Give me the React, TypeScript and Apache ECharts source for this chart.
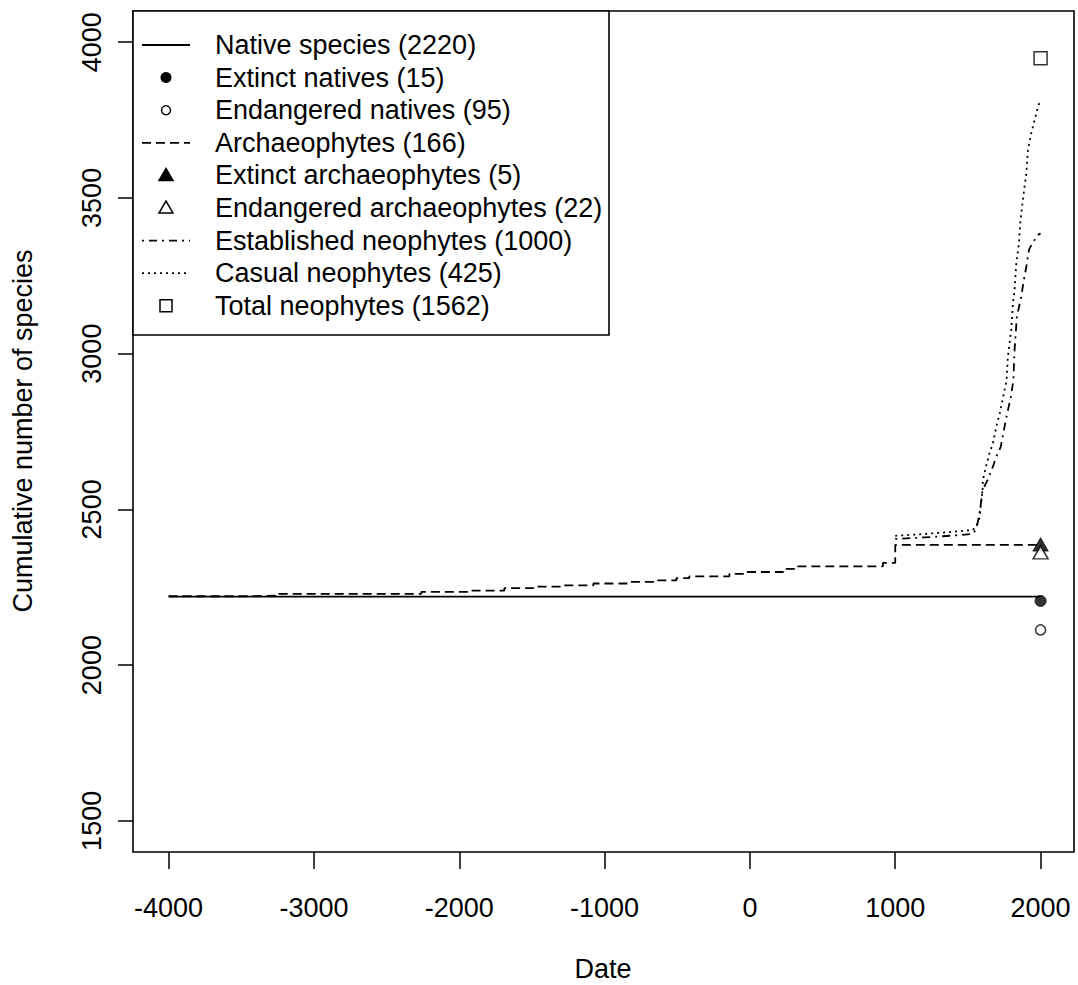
import React, { useEffect, useRef } from "react";
import * as echarts from "echarts";

const FONT = "'Liberation Sans', Arial, Helvetica, sans-serif";

const xTicks = [-4000, -3000, -2000, -1000, 0, 1000, 2000];
const yTicks = [1500, 2000, 2500, 3000, 3500, 4000];

const xAxisTitle = "Date";
const yAxisTitle = "Cumulative number of species";

// Cumulative curves: [date, cumulative number of species]
const nativeSpecies: [number, number][] = [
  [-4000, 2220],
  [2000, 2220],
];

const archaeophytes: [number, number][] = [
  [-4000, 2221], [-3441, 2223], [-3241, 2229], [-2261, 2235], [-1937, 2239],
  [-1690, 2247], [-1490, 2252], [-1290, 2256], [-1077, 2262], [-836, 2267],
  [-644, 2272], [-506, 2279], [-417, 2285], [-141, 2293], [-31, 2299],
  [230, 2309], [320, 2317], [915, 2328], [1000, 2386], [2000, 2386],
];

const establishedNeophytes: [number, number][] = [
  [1000, 2405], [1200, 2410], [1400, 2416], [1535, 2421], [1560, 2440],
  [1580, 2487], [1601, 2562], [1635, 2594], [1672, 2637], [1695, 2669],
  [1726, 2701], [1743, 2744], [1766, 2798], [1795, 2860], [1813, 2915],
  [1821, 3012], [1837, 3119], [1867, 3183], [1885, 3237], [1902, 3279],
  [1920, 3333], [1943, 3354], [1981, 3381], [2000, 3386],
];

const casualNeophytes: [number, number][] = [
  [1000, 2415], [1200, 2421], [1400, 2428], [1535, 2434], [1560, 2450],
  [1577, 2466], [1601, 2562], [1603, 2594], [1624, 2637], [1648, 2680],
  [1672, 2712], [1695, 2765], [1719, 2808], [1743, 2862], [1766, 2915],
  [1775, 2990], [1798, 3076], [1810, 3162], [1821, 3204], [1833, 3290],
  [1851, 3354], [1860, 3419], [1878, 3494], [1902, 3579], [1913, 3654],
  [1936, 3708], [1959, 3750], [1986, 3799], [2000, 3810],
];

const extinctNatives: [number, number][] = [[2000, 2206]];
const endangeredNatives: [number, number][] = [[2000, 2113]];
const extinctArchaeophytes: [number, number][] = [[2000, 2387]];
const endangeredArchaeophytes: [number, number][] = [[2000, 2362]];
const totalNeophytes: [number, number][] = [[2000, 3948]];

const legendLabels = [
  "Native species (2220)",
  "Extinct natives (15)",
  "Endangered natives (95)",
  "Archaeophytes (166)",
  "Extinct archaeophytes (5)",
  "Endangered archaeophytes (22)",
  "Established neophytes (1000)",
  "Casual neophytes (425)",
  "Total neophytes (1562)",
];

const DASHED = [9, 5];
const DASHDOT = [2, 5, 8, 5];
const DOTTED = [2, 4];
const LW = 1.8;

function legendGraphics() {
  const els: any[] = [];
  const x0 = 133, y0 = 11, w = 476, h = 324;
  els.push({
    type: "rect",
    shape: { x: x0, y: y0, width: w, height: h },
    style: { fill: "#fff", stroke: "#000", lineWidth: 1.6 },
    z: 10,
  });
  const rowY = (i: number) => 45 + i * 32.6;
  const sx = 166;
  const lineSeg = (i: number, dash: any) => ({
    type: "line",
    shape: { x1: 142, y1: rowY(i), x2: 190, y2: rowY(i) },
    style: { stroke: "#000", lineWidth: LW, lineDash: dash },
    z: 11,
  });
  const tri = (i: number, filled: boolean) => {
    const cy = rowY(i);
    return {
      type: "polygon",
      shape: { points: [[sx - 7, cy + 5], [sx + 7, cy + 5], [sx, cy - 7]] },
      style: { fill: filled ? "#000" : "#fff", stroke: "#000", lineWidth: 1.5 },
      z: 11,
    };
  };
  els.push(lineSeg(0, null));
  els.push({ type: "circle", shape: { cx: sx, cy: rowY(1), r: 5.5 }, style: { fill: "#000" }, z: 11 });
  els.push({ type: "circle", shape: { cx: sx, cy: rowY(2), r: 4.5 }, style: { fill: "#fff", stroke: "#000", lineWidth: 1.4 }, z: 11 });
  els.push(lineSeg(3, DASHED));
  els.push(tri(4, true));
  els.push(tri(5, false));
  els.push(lineSeg(6, DASHDOT));
  els.push(lineSeg(7, DOTTED));
  els.push({ type: "rect", shape: { x: sx - 6, y: rowY(8) - 6, width: 12, height: 12 }, style: { fill: "#fff", stroke: "#000", lineWidth: 1.5 }, z: 11 });
  legendLabels.forEach((t, i) => {
    els.push({
      type: "text",
      x: 215,
      y: rowY(i),
      style: { text: t, font: `27px ${FONT}`, fill: "#000", align: "left", verticalAlign: "middle" },
      z: 11,
    });
  });
  return els;
}

export default function App() {
  const ref = useRef<HTMLDivElement>(null);
  useEffect(() => {
    if (!ref.current) return;
    const chart = echarts.init(ref.current, null, { renderer: "svg" });
    const lineSeries = (name: string, data: any, dash: any, step?: any) => ({
      name,
      type: "line",
      data,
      step: step || false,
      showSymbol: false,
      symbol: "none",
      lineStyle: { color: "#000", width: LW, type: dash || "solid" },
      z: 3,
    });
    const pointSeries = (name: string, data: any, symbol: string, size: any, filled: boolean) => ({
      name,
      type: "scatter",
      data,
      symbol,
      symbolSize: size,
      itemStyle: filled
        ? { color: "#000", borderColor: "#000", borderWidth: 1 }
        : { color: "#fff", borderColor: "#000", borderWidth: 1.5 },
      z: 4,
    });
    const option: any = {
      animation: false,
      backgroundColor: "#fff",
      grid: {
        left: 133,
        top: 11,
        width: 941,
        height: 841,
        show: true,
        borderColor: "#000",
        borderWidth: 1.6,
        backgroundColor: "transparent",
        containLabel: false,
      },
      xAxis: {
        type: "value",
        min: -4245,
        max: 2230,
        position: "bottom",
        axisLine: { show: false, onZero: false },
        splitLine: { show: false },
        axisTick: {
          show: true,
          inside: false,
          length: 17,
          customValues: xTicks,
          lineStyle: { color: "#000", width: 1.5 },
        },
        axisLabel: {
          customValues: xTicks,
          margin: 42,
          fontSize: 27,
          fontFamily: FONT,
          color: "#000",
          formatter: (v: number) => String(v),
        },
      },
      yAxis: {
        type: "value",
        min: 1400,
        max: 4100,
        position: "left",
        axisLine: { show: false, onZero: false },
        splitLine: { show: false },
        axisTick: {
          show: true,
          inside: false,
          length: 15,
          customValues: yTicks,
          lineStyle: { color: "#000", width: 1.5 },
        },
        axisLabel: {
          customValues: yTicks,
          rotate: 90,
          margin: 28,
          fontSize: 27,
          fontFamily: FONT,
          color: "#000",
          formatter: (v: number) => String(v),
        },
      },
      series: [
        lineSeries("Native species", nativeSpecies, "solid"),
        lineSeries("Archaeophytes", archaeophytes, DASHED, "end"),
        lineSeries("Established neophytes", establishedNeophytes, DASHDOT),
        lineSeries("Casual neophytes", casualNeophytes, DOTTED),
        pointSeries("Extinct natives", extinctNatives, "circle", 11, true),
        pointSeries("Endangered natives", endangeredNatives, "circle", 10, false),
        pointSeries("Extinct archaeophytes", extinctArchaeophytes, "triangle", [15, 13], true),
        pointSeries("Endangered archaeophytes", endangeredArchaeophytes, "triangle", [15, 13], false),
        pointSeries("Total neophytes", totalNeophytes, "rect", 13, false),
      ],
      graphic: [
        ...legendGraphics(),
        {
          type: "text",
          x: 23,
          y: 431,
          rotation: Math.PI / 2,
          style: { text: yAxisTitle, font: `27px ${FONT}`, fill: "#000", align: "center", verticalAlign: "middle" },
        },
        {
          type: "text",
          x: 603,
          y: 969,
          style: { text: xAxisTitle, font: `27px ${FONT}`, fill: "#000", align: "center", verticalAlign: "middle" },
        },
      ],
    };
    chart.setOption(option);
    return () => chart.dispose();
  }, []);
  return (
    <div
      ref={ref}
      style={{ position: "absolute", left: 0, top: 0, width: 1078, height: 985, background: "#fff" }}
    />
  );
}
